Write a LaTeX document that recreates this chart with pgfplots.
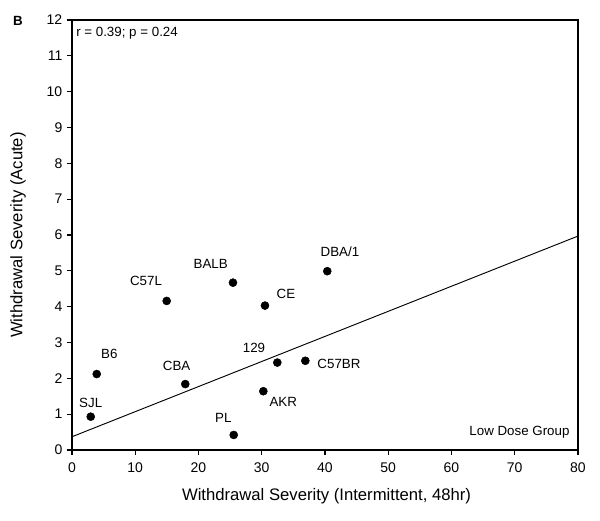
\documentclass[border=0pt]{standalone}
\usepackage{fontspec}
\setmainfont{Liberation Sans}
\usepackage{pgfplots}
\pgfplotsset{compat=1.18}
\begin{document}
\begin{tikzpicture}
\begin{axis}[
  at={(0,0)}, anchor=south west,
  scale only axis, width=379.5pt, height=322.5pt,
  xmin=0, xmax=80, ymin=0, ymax=12,
  xtick={0,10,...,80}, ytick={0,1,...,12},
  tick align=outside, tick pos=left,
  major tick length=3.75pt,
  axis line style={line width=0.8pt},
  every tick/.style={black, line width=0.8pt},
  /pgf/number format/assume math mode=true,
  ticklabel style={font=\fontsize{10.5}{12}\selectfont},
  xticklabel style={yshift=-2pt},
  xlabel={Withdrawal Severity (Intermittent, 48hr)},
  ylabel={Withdrawal Severity (Acute)},
  label style={font=\fontsize{12.5}{14}\selectfont},
  xlabel style={at={(axis description cs:0.503,0)}, anchor=center, yshift=-34.5pt},
  ylabel style={at={(axis description cs:0,0.5)}, anchor=center, rotate=0, xshift=0pt, yshift=40.5pt},
  clip=false,
]
\addplot[black, line width=0.7pt] coordinates {(0,0.37) (80,5.97)};
\addplot[only marks, mark=*, mark size=3pt, black] coordinates {
  (2.96,0.93) (3.91,2.12) (14.97,4.16) (17.91,1.84) (25.45,4.67)
  (25.57,0.42) (30.51,4.03) (30.25,1.64) (32.46,2.44) (36.89,2.49) (40.36,4.99)
};
\begin{scope}[every node/.style={font=\fontsize{10}{12}\selectfont, inner sep=0pt}]
\node at (axis cs:2.96,1.32) {SJL};
\node at (axis cs:5.90,2.68) {B6};
\node at (axis cs:11.70,4.73) {C57L};
\node at (axis cs:16.55,2.34) {CBA};
\node at (axis cs:21.93,5.18) {BALB};
\node at (axis cs:33.83,4.35) {CE};
\node at (axis cs:28.77,2.86) {129};
\node at (axis cs:33.41,1.34) {AKR};
\node at (axis cs:23.92,0.90) {PL};
\node at (axis cs:42.21,2.40) {C57BR};
\node at (axis cs:42.37,5.52) {DBA/1};
\node[anchor=east] at (axis cs:78.7,0.50) {Low Dose Group};
\node[anchor=west] at (axis cs:0.63,11.64) {r = 0.39; p = 0.24};
\end{scope}
\end{axis}
\node[font=\bfseries\fontsize{10}{12}\selectfont] at (-40.5pt,321.75pt) {B};
\pgfresetboundingbox
\path (-54pt,-53.25pt) rectangle (396pt,337.5pt);
\end{tikzpicture}
\end{document}
